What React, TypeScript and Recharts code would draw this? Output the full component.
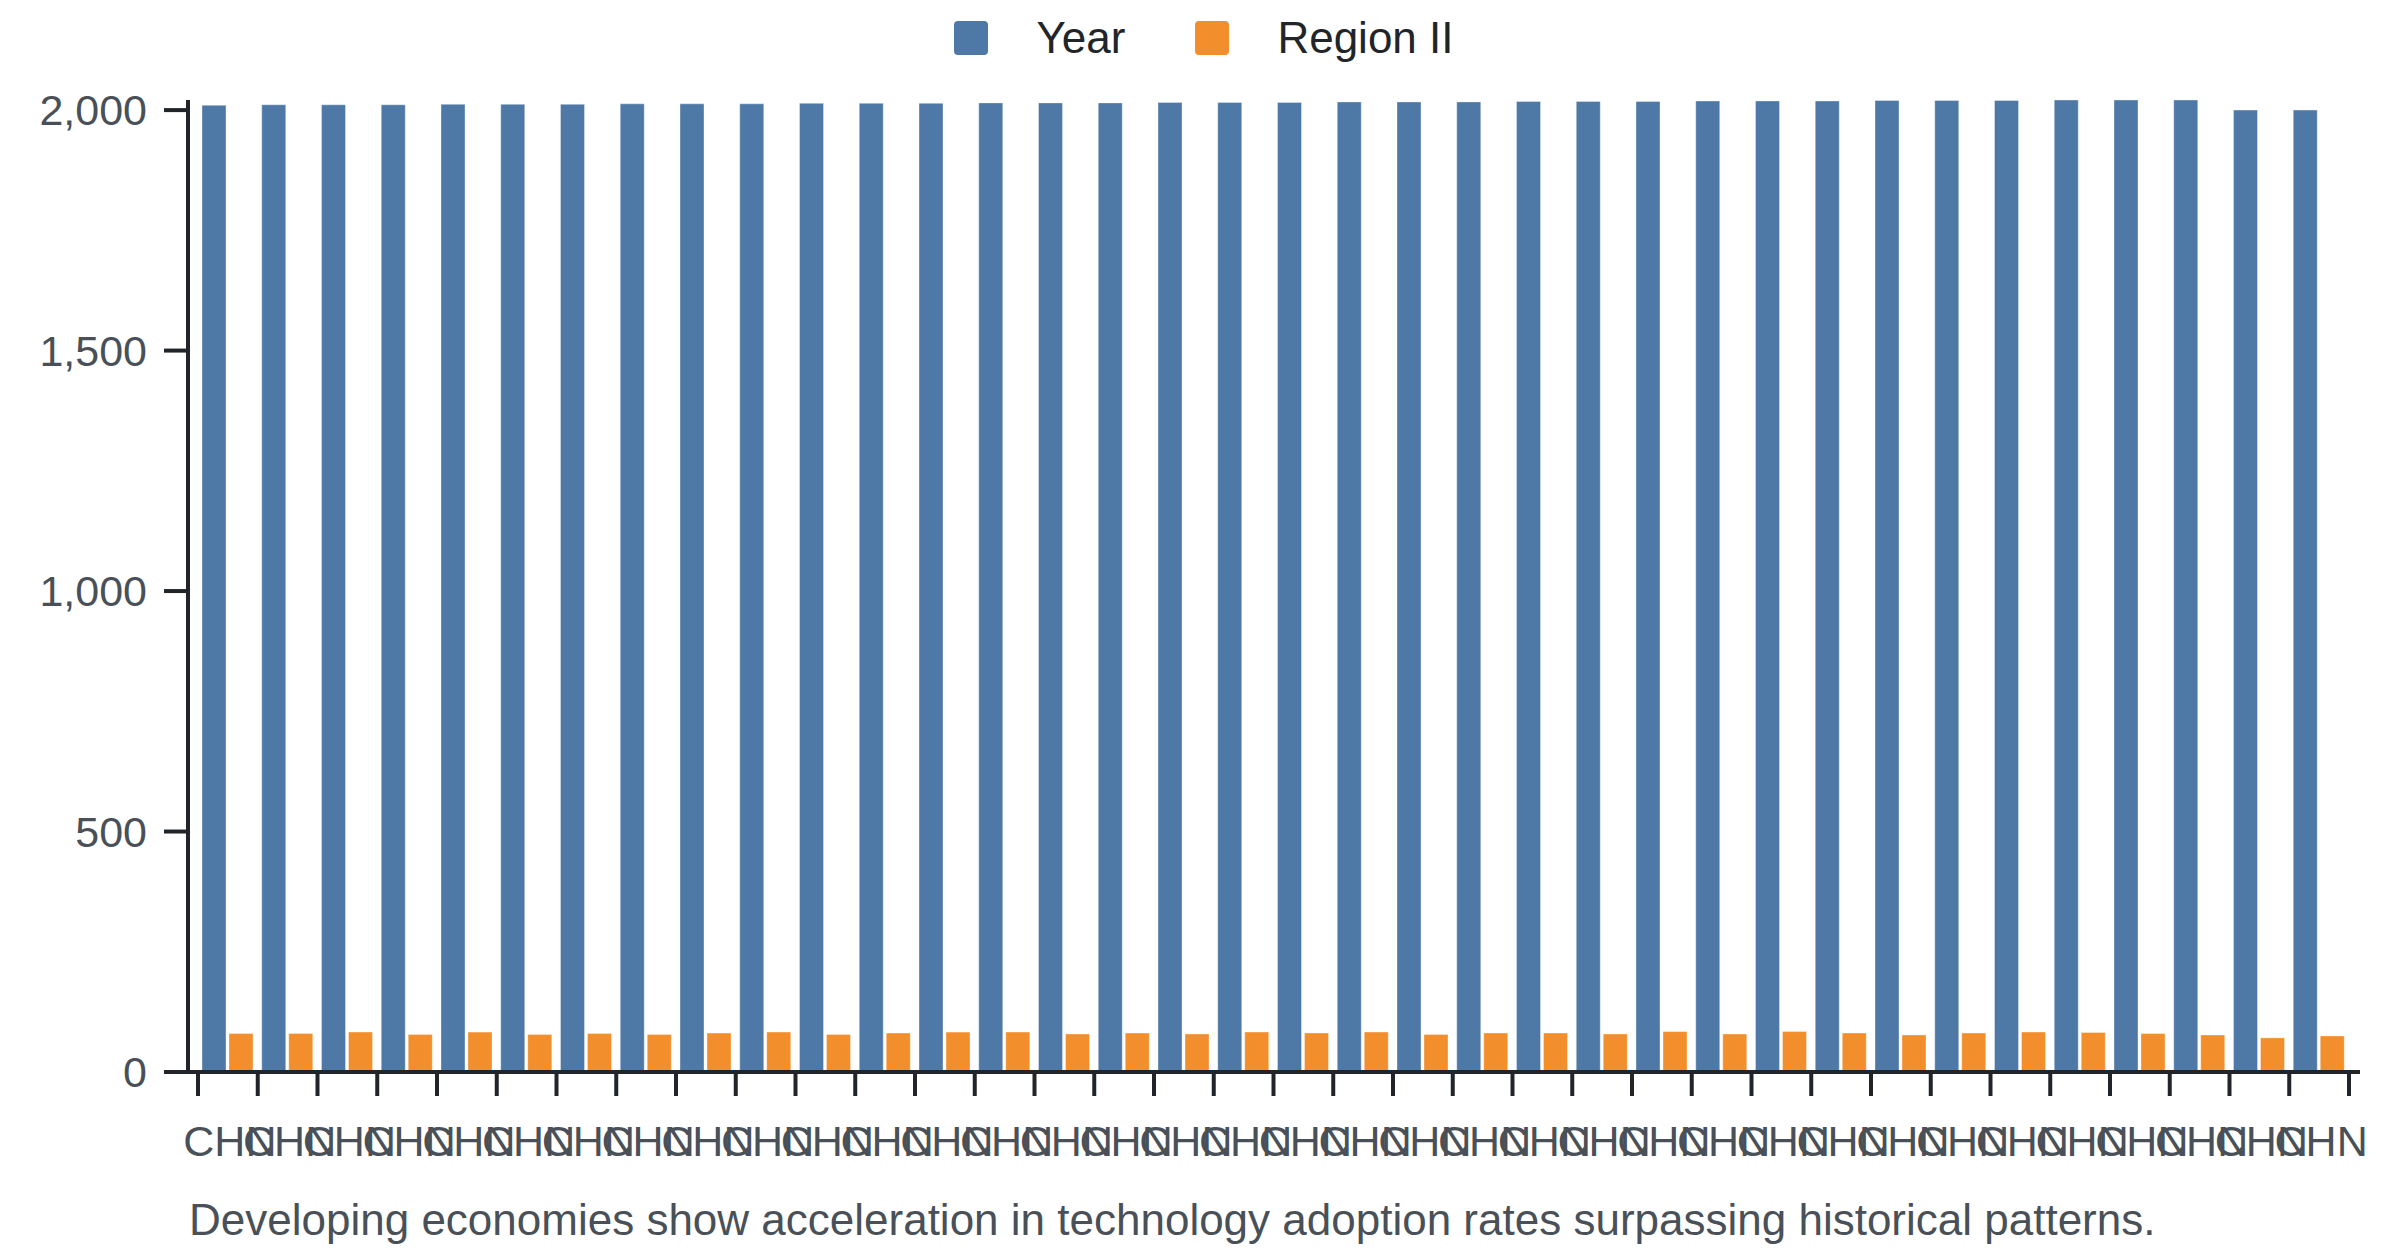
import React from 'react'
import { BarChart, Bar, XAxis, YAxis, Legend } from 'recharts'

const countries = [
  'CHN', 'CHN', 'CHN', 'CHN', 'CHN', 'CHN', 'CHN', 'CHN', 'CHN', 'CHN', 'CHN', 'CHN',
  'CHN', 'CHN', 'CHN', 'CHN', 'CHN', 'CHN', 'CHN', 'CHN', 'CHN', 'CHN', 'CHN', 'CHN',
  'CHN', 'CHN', 'CHN', 'CHN', 'CHN', 'CHN', 'CHN', 'CHN', 'CHN', 'CHN', 'CHN', 'CHN',
]

const years = [
  2010, 2011, 2011, 2011, 2012, 2012, 2012, 2013, 2013, 2013, 2014, 2014,
  2014, 2015, 2015, 2015, 2016, 2016, 2016, 2017, 2017, 2017, 2018, 2018,
  2018, 2019, 2019, 2019, 2020, 2020, 2020, 2021, 2021, 2021, 2000, 2000,
]

const regionII = [
  80, 80, 83, 78, 83, 78, 80, 78, 81, 83, 78, 81,
  83, 83, 79, 81, 79, 83, 81, 83, 78, 81, 81, 79,
  84, 79, 84, 81, 77, 81, 83, 82, 80, 77, 71, 75,
]

const yTicks = [0, 500, 1000, 1500, 2000]

const caption = 'Developing economies show acceleration in technology adoption rates surpassing historical patterns.'

const data = countries.map((c, i) => ({ country: c, year: years[i], region: regionII[i] }))

const BLUE = '#4e79a7'
const ORANGE = '#f28e2b'
const AXIS = '#212529'
const TICK_TEXT = '#495057'
const FONT = '"Liberation Sans", Arial, Helvetica, sans-serif'
const FONT_SIZE = 44
const TICK_FONT_SIZE = 43

const CHART_W = 2400
const CHART_H = 1180
const MARGIN_RIGHT = 40
const Y_AXIS_W = 188
const PAD_LEFT = 10
const PAD_RIGHT = 11
const X_TICK_LEN = 24
const X_LABEL_GAP = 29
const BAND_STEP = (CHART_W - MARGIN_RIGHT - PAD_RIGHT - Y_AXIS_W - PAD_LEFT) / countries.length

// ticks sit on the band edges, labels stay on the band centres
const CountryTick = (props: any) => {
  const { x, y, payload, index } = props
  const half = BAND_STEP / 2
  const axisY = y - X_TICK_LEN - X_LABEL_GAP
  return (
    <g>
      <line x1={x - half} x2={x - half} y1={axisY} y2={axisY + X_TICK_LEN} stroke={AXIS} strokeWidth={4} />
      {index === countries.length - 1 && (
        <line x1={x + half} x2={x + half} y1={axisY} y2={axisY + X_TICK_LEN} stroke={AXIS} strokeWidth={4} />
      )}
      <text x={x + 2} y={y} dy="0.71em" textAnchor="middle" fill={TICK_TEXT} fontSize={TICK_FONT_SIZE}>
        {payload.value}
      </text>
    </g>
  )
}

const legendItems = [
  { label: 'Year', color: BLUE },
  { label: 'Region II', color: ORANGE },
]

const renderLegend = () => (
  <div
    style={{
      height: 100,
      boxSizing: 'border-box',
      paddingTop: 21,
      paddingLeft: 8,
      display: 'flex',
      justifyContent: 'center',
      alignItems: 'flex-start',
    }}
  >
    {legendItems.map((item, i) => (
      <div key={item.label} style={{ display: 'flex', alignItems: 'center', marginLeft: i === 0 ? 0 : 70 }}>
        <div style={{ width: 34, height: 34, borderRadius: 4, background: item.color }} />
        <span style={{ marginLeft: 48, fontSize: FONT_SIZE, lineHeight: '34px', color: AXIS }}>{item.label}</span>
      </div>
    ))}
  </div>
)

export default function App() {
  return (
    <div style={{ position: 'absolute', left: 0, top: 0, width: CHART_W, height: 1256, fontFamily: FONT, background: '#fff' }}>
      <BarChart
        width={CHART_W}
        height={CHART_H}
        data={data}
        margin={{ top: 0, right: MARGIN_RIGHT, left: 0, bottom: 0 }}
        barCategoryGap={4}
        barGap={3}
      >
        <Legend
          verticalAlign="top"
          align="center"
          content={renderLegend}
          wrapperStyle={{ left: 0, width: CHART_W, top: 0 }}
        />
        <XAxis
          dataKey="country"
          interval={0}
          height={CHART_H - 1072}
          padding={{ left: PAD_LEFT, right: PAD_RIGHT }}
          axisLine={{ stroke: AXIS, strokeWidth: 4 }}
          tickLine={false}
          tickSize={0}
          tickMargin={X_TICK_LEN + X_LABEL_GAP}
          tick={<CountryTick />}
        />
        <YAxis
          width={Y_AXIS_W}
          domain={[0, 'dataMax']}
          ticks={yTicks}
          interval={0}
          tickFormatter={(v: number) => v.toLocaleString('en-US')}
          axisLine={{ stroke: AXIS, strokeWidth: 4 }}
          tickLine={{ stroke: AXIS, strokeWidth: 4 }}
          tickSize={24}
          tickMargin={17}
          tick={{ fill: TICK_TEXT, fontSize: TICK_FONT_SIZE }}
        />
        <Bar dataKey="year" name="Year" fill={BLUE} stroke="#ffffff" strokeOpacity={0.35} strokeWidth={1} isAnimationActive={false} />
        <Bar dataKey="region" name="Region II" fill={ORANGE} stroke="#ffffff" strokeOpacity={0.35} strokeWidth={1} isAnimationActive={false} />
      </BarChart>
      <div
        style={{
          position: 'absolute',
          left: 189,
          top: 1198,
          fontSize: FONT_SIZE,
          lineHeight: `${FONT_SIZE}px`,
          color: TICK_TEXT,
          whiteSpace: 'nowrap',
        }}
      >
        {caption}
      </div>
    </div>
  )
}
